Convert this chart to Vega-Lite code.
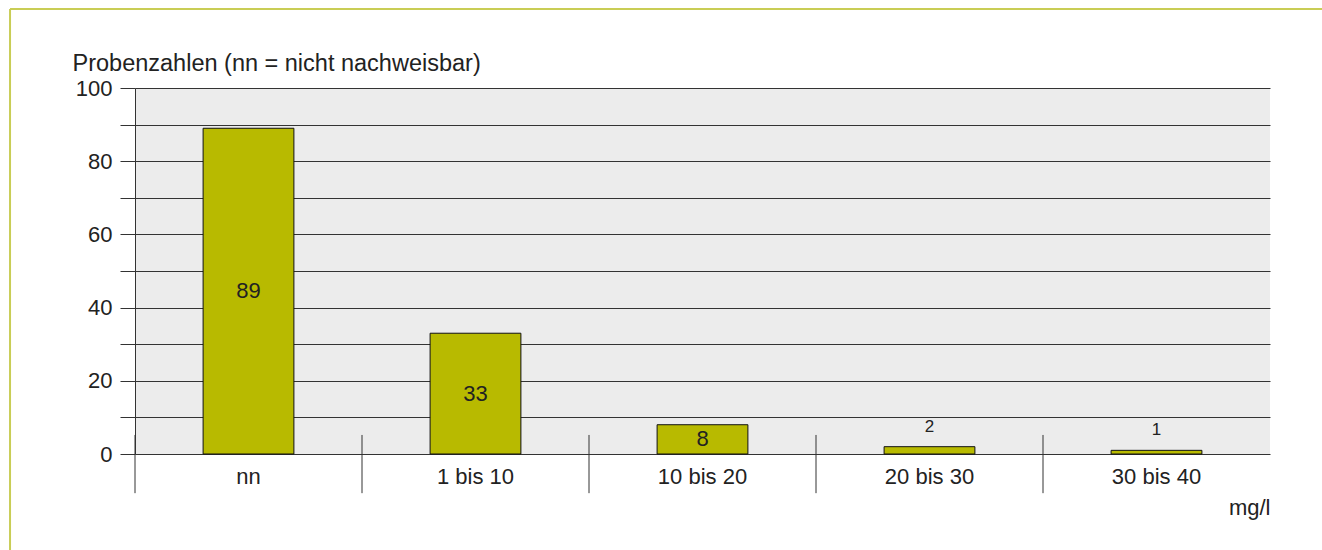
{
  "$schema": "https://vega.github.io/schema/vega-lite/v6.json",
  "width": 1135,
  "height": 366,
  "autosize": {"type": "none"},
  "padding": {"left": 135, "top": 88, "right": 52, "bottom": 96},
  "background": "white",
  "config": {
    "view": {"fill": "#ececec", "stroke": null},
    "font": "Liberation Sans",
    "axis": {
      "labelFont": "Liberation Sans",
      "labelFontSize": 22,
      "labelColor": "#222222",
      "titleFont": "Liberation Sans",
      "titleFontSize": 22,
      "titleFontWeight": "normal",
      "titleColor": "#222222"
    },
    "axisY": {
      "values": [0, 10, 20, 30, 40, 50, 60, 70, 80, 90, 100],
      "labelExpr": "datum.value % 20 == 0 ? datum.label : ''",
      "labelOverlap": false,
      "grid": true, "gridColor": "#333333", "gridWidth": 1, "gridOpacity": 1,
      "tickSize": 15, "tickColor": "#333333", "tickWidth": 1,
      "domain": true, "domainColor": "#333333", "domainWidth": 1,
      "labelPadding": 8,
      "titleFontSize": 23.5,
      "titleAngle": 0, "titleX": -63, "titleY": -18,
      "titleAlign": "left", "titleBaseline": "alphabetic", "titleAnchor": "start"
    }
  },
  "data": {
    "values": [
      {"kategorie": "nn", "proben": 89},
      {"kategorie": "1 bis 10", "proben": 33},
      {"kategorie": "10 bis 20", "proben": 8},
      {"kategorie": "20 bis 30", "proben": 2},
      {"kategorie": "30 bis 40", "proben": 1}
    ]
  },
  "layer": [
    {
      "layer": [
        {
          "layer": [
            {
              "mark": {"type": "bar", "width": {"band": 0.4}, "fill": "#b8ba00", "stroke": "#111111", "strokeWidth": 1},
              "encoding": {
                "x": {
                  "field": "kategorie", "type": "nominal", "sort": null,
                  "scale": {"type": "band", "paddingInner": 0, "paddingOuter": 0},
                  "axis": {
                    "labelAngle": 0, "ticks": false, "tickSize": 0, "domain": false, "grid": false,
                    "labelPadding": 12, "title": "mg/l", "titleAnchor": "end", "titleAlign": "right",
                    "titlePadding": 10
                  }
                },
                "y": {
                  "field": "proben", "type": "quantitative",
                  "scale": {"domain": [0, 100], "nice": false, "zero": true},
                  "axis": {"title": "Probenzahlen (nn = nicht nachweisbar)", "values": [0, 10, 20, 30, 40, 50, 60, 70, 80, 90, 100]}
                }
              }
            },
            {
              "transform": [{"filter": "datum.proben < 5"}],
              "mark": {"type": "text", "baseline": "bottom", "dy": -11, "fontSize": 17, "color": "#222222", "font": "Liberation Sans"},
              "encoding": {
                "x": {"field": "kategorie", "type": "nominal", "sort": null},
                "y": {"field": "proben", "type": "quantitative", "axis": {"title": "Probenzahlen (nn = nicht nachweisbar)", "values": [0, 10, 20, 30, 40, 50, 60, 70, 80, 90, 100]}},
                "text": {"field": "proben", "type": "quantitative"}
              }
            },
            {
              "mark": {"type": "rule", "color": "#333333", "strokeWidth": 1},
              "encoding": {
                "x": {"field": "kategorie", "type": "nominal", "sort": null, "bandPosition": 0},
                "y": {"datum": -10.7, "type": "quantitative", "axis": {"title": "Probenzahlen (nn = nicht nachweisbar)", "values": [0, 10, 20, 30, 40, 50, 60, 70, 80, 90, 100]}},
                "y2": {"datum": 5.2}
              }
            }
          ]
        },
        {
          "transform": [{"filter": "datum.proben >= 5"}],
          "mark": {"type": "text", "baseline": "middle", "fontSize": 22, "color": "#222222", "font": "Liberation Sans"},
          "encoding": {
            "x": {"field": "kategorie", "type": "nominal", "sort": null},
            "y": {"field": "proben", "type": "quantitative", "scale": {"domain": [0, 200], "nice": false}, "axis": null},
            "text": {"field": "proben", "type": "quantitative"}
          }
        }
      ],
      "resolve": {"scale": {"y": "independent"}}
    },
    {
      "data": {"values": [{"teil": "Rahmen"}]},
      "layer": [
        {
          "mark": {"type": "rule", "color": "#c9cd55", "strokeWidth": 2},
          "encoding": {
            "x": {"datum": -0.1101, "type": "quantitative", "scale": {"domain": [0, 1], "nice": false, "zero": false}, "axis": null},
            "x2": {"datum": 1.1},
            "y": {"datum": 121.6, "type": "quantitative", "scale": {"domain": [0, 100], "nice": false}, "axis": null}
          }
        },
        {
          "mark": {"type": "rule", "color": "#c9cd55", "strokeWidth": 2},
          "encoding": {
            "x": {"datum": -0.1101, "type": "quantitative"},
            "y": {"datum": 121.6, "type": "quantitative"},
            "y2": {"datum": -30}
          }
        }
      ]
    }
  ],
  "resolve": {"scale": {"x": "independent", "y": "independent"}}
}
